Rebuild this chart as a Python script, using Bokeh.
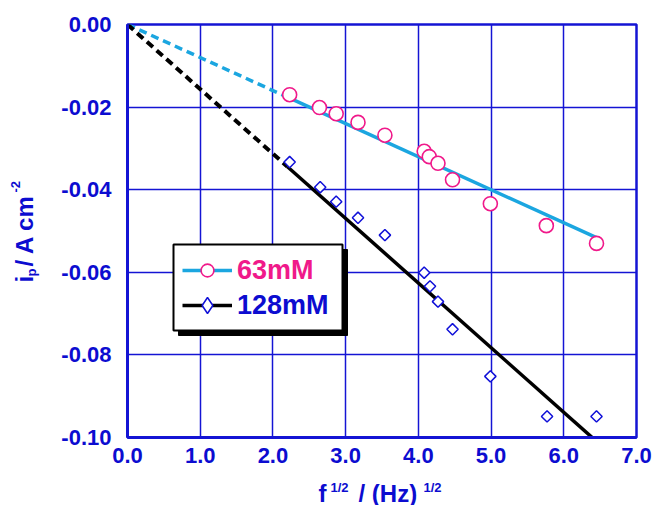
import numpy as np
from bokeh.plotting import figure
from bokeh.layouts import row, column
from bokeh.models import (FixedTicker, PrintfTickFormatter, BoxAnnotation,
                          Legend, LegendItem, Range1d)
from bokeh.core.properties import value
from bokeh.embed import file_html
from bokeh.resources import INLINE

# Peak current vs square root of frequency for two concentrations
sqrt_f_63 = [2.23, 2.64, 2.87, 3.17, 3.54, 4.08, 4.15, 4.27, 4.47, 4.99, 5.76, 6.45]
ip_63 = [-0.0170, -0.0201, -0.0216, -0.0237, -0.0268, -0.0307, -0.0320,
         -0.0336, -0.0376, -0.0434, -0.0487, -0.0530]

sqrt_f_128 = [2.23, 2.65, 2.87, 3.17, 3.54, 4.08, 4.16, 4.27, 4.47, 4.99, 5.77, 6.45]
ip_128 = [-0.0333, -0.0394, -0.0429, -0.0468, -0.0510, -0.0601, -0.0634,
          -0.0671, -0.0738, -0.0852, -0.0949, -0.0949]

# Linear fits through the origin (A cm^-2 per Hz^1/2)
slope_63 = -0.0080
slope_128 = -0.01565
extrap_end = 2.2        # dashed extrapolation from 0 to here
fit_end = 6.45

x_ticks = [0, 1, 2, 3, 4, 5, 6, 7]
y_ticks = [0.0, -0.02, -0.04, -0.06, -0.08, -0.10]

BLUE = "#1414d4"
TEXT_BLUE = "#0c0cd0"
CYAN = "#1ba6e0"
PINK = "#f0198a"
FONT = "Liberation Sans"

PAGE_W, PAGE_H = 655, 505
YT_W = 40          # strip holding the vertical axis title
XT_H = 27          # strip holding the horizontal axis title
MAIN_H = PAGE_H - XT_H

p = figure(width=PAGE_W - YT_W, height=MAIN_H, output_backend="svg",
           toolbar_location=None, frame_align=False,
           x_range=Range1d(0, 7), y_range=Range1d(-0.10, 0.0),
           min_border_left=127 - YT_W, min_border_right=19, min_border_top=24,
           min_border_bottom=MAIN_H - 437, background_fill_color="white",
           border_fill_color="white")

p.outline_line_color = BLUE
p.outline_line_width = 2.5

for ax in (p.xaxis[0], p.yaxis[0]):
    ax.axis_line_color = BLUE
    ax.axis_line_width = 3
    ax.major_tick_line_color = None
    ax.minor_tick_line_color = None
    ax.major_tick_out = 0
    ax.major_tick_in = 0
    ax.major_label_text_color = TEXT_BLUE
    ax.major_label_text_font = FONT
    ax.major_label_text_font_style = "bold"
    ax.major_label_text_font_size = "22px"

p.xaxis.ticker = FixedTicker(ticks=x_ticks)
p.yaxis.ticker = FixedTicker(ticks=y_ticks)
p.xaxis.formatter = PrintfTickFormatter(format="%.1f")
p.yaxis.formatter = PrintfTickFormatter(format="%.2f")
p.xaxis.major_label_standoff = 10
p.yaxis.major_label_standoff = 16

p.xgrid.grid_line_color = BLUE
p.ygrid.grid_line_color = BLUE
p.xgrid.grid_line_width = 1.5
p.ygrid.grid_line_width = 1.5

# fit lines: dashed extrapolation to the origin, solid over the data
xd = np.array([0.0, extrap_end])
xs = np.array([extrap_end, fit_end])
p.line(xd, slope_63 * xd, line_color=CYAN, line_width=3.5, line_dash="8 5")
l63 = p.line(xs, slope_63 * xs, line_color=CYAN, line_width=3.5)
p.line(xd, slope_128 * xd, line_color="black", line_width=4, line_dash="8 5")
l128 = p.line(xs, slope_128 * xs, line_color="black", line_width=3.5)

# diamond swatch for the legend (zero-size on the plot itself)
key128 = p.scatter(sqrt_f_128, ip_128, marker="diamond", size=0, line_color="#1010d8",
                   line_width=1.5, fill_color="white")
s63 = p.scatter(sqrt_f_63, ip_63, marker="circle", size=14, line_color=PINK,
                line_width=1.6, fill_color="white")
s128 = p.scatter(sqrt_f_128, ip_128, marker="square", angle=np.pi / 4, size=8,
                 line_color="#1010d8", line_width=1.5, fill_color="white")

# legend frame with drop shadow (page pixels -> data)
def px_x(px):
    return (px - 127) / 509.0 * 7.0

def px_y(py):
    return -(py - 24) / 413.0 * 0.10

p.add_layout(BoxAnnotation(left=px_x(178), right=px_x(347), top=px_y(249), bottom=px_y(335),
                           fill_color="black", fill_alpha=1.0, line_color="black",
                           line_alpha=1.0))
p.add_layout(BoxAnnotation(left=px_x(173), right=px_x(342), top=px_y(244), bottom=px_y(330),
                           fill_color="white", fill_alpha=1.0, line_color="black",
                           line_width=2, line_alpha=1.0))

leg_kw = dict(glyph_width=50, padding=0, margin=0, label_standoff=5,
              border_line_color=None, background_fill_alpha=0.0,
              label_text_font=FONT, label_text_font_style="bold",
              label_text_font_size="27px")
p.add_layout(Legend(items=[LegendItem(label="63mM", renderers=[l63, s63])],
                    location=(55, 151), glyph_height=32, label_text_color=PINK,
                    **leg_kw))
p.add_layout(Legend(items=[LegendItem(label="128mM", renderers=[l128, key128])],
                    location=(55, 112), glyph_height=40, label_text_color=TEXT_BLUE,
                    **leg_kw))


# axis titles with sub/superscripts, drawn in their own strips (page pixels)
def strip(width, height, x0, y0):
    f = figure(width=width, height=height, output_backend="svg", toolbar_location=None,
               frame_align=False,
               x_range=Range1d(x0, x0 + width), y_range=Range1d(y0 + height, y0),
               x_axis_type=None, y_axis_type=None, min_border=0,
               background_fill_color="white", border_fill_color="white")
    f.outline_line_color = None
    f.grid.visible = False
    return f

def put(f, xs_, ys_, texts, size, angle=0.0):
    f.text(x=xs_, y=ys_, text=texts, angle=angle, text_font=value(FONT),
           text_font_style="bold", text_font_size=value(size), text_color=TEXT_BLUE,
           text_align="left", text_baseline="alphabetic")

xt = strip(PAGE_W, XT_H, 0, MAIN_H)
put(xt, [318, 358], [493, 493], ["f", "/ (Hz)"], "24px")
put(xt, [330, 423], [487, 487], ["1/2", "1/2"], "13px")

yt = strip(YT_W, MAIN_H, 0, 0)
rot = np.pi / 2
put(yt, [24, 24], [282, 266], ["i", "/ A cm"], "24px", rot)
put(yt, [31], [276], ["p"], "13px", rot)
put(yt, [15], [192], ["-2"], "13px", rot)

page = column(row(yt, p), xt)
open("out.html", "w").write(file_html(page, INLINE))
